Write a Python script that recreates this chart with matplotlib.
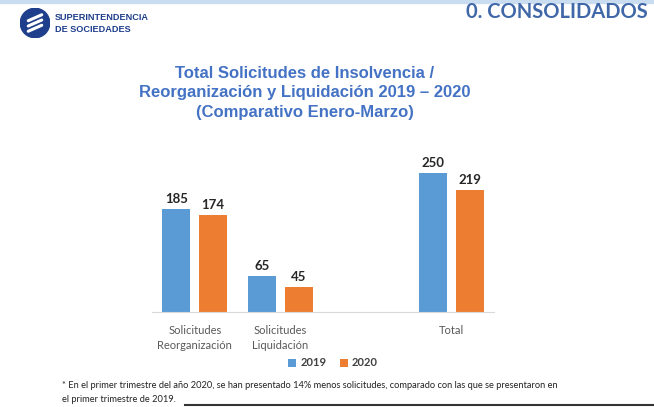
import matplotlib.pyplot as plt
import numpy as np
from matplotlib.patches import Circle, Rectangle
from matplotlib.lines import Line2D

# data
categories = ["Solicitudes\nReorganización", "Solicitudes\nLiquidación", "", "Total"]
series_2019 = [185, 65, None, 250]
series_2020 = [174, 45, None, 219]
years = ["2019", "2020"]

BLUE = "#5B9BD5"
ORANGE = "#ED7D31"
TITLE_BLUE = "#4472C4"
DARK_BLUE = "#1F3F8C"

fig = plt.figure(figsize=(6.54, 4.07), dpi=100)
fig.patch.set_facecolor("white")

ax = fig.add_axes([152 / 654, 95 / 407, 342 / 654, 0.41])
x = np.arange(len(categories))
w = 0.33
for vals, off, col, lab in [(series_2019, -0.215, BLUE, years[0]), (series_2020, 0.215, ORANGE, years[1])]:
    xs = [xi + off for xi, v in zip(x, vals) if v is not None]
    vs = [v for v in vals if v is not None]
    bars = ax.bar(xs, vs, width=w, color=col, label=lab)
    for b, v in zip(bars, vs):
        ax.text(b.get_x() + b.get_width() / 2, v + 7, str(v), ha="center", va="bottom",
                fontsize=9.5, fontweight="bold", color="#262626", family="Lato")

ax.set_xlim(-0.5, 3.5)
ax.set_ylim(0, 300)
ax.set_yticks([])
ax.set_xticks(x)
ax.set_xticklabels(categories, fontsize=8, color="#595959", family="Lato", linespacing=1.45)
ax.tick_params(axis="x", length=0, pad=9)
for s in ["top", "left", "right"]:
    ax.spines[s].set_visible(False)
ax.spines["bottom"].set_color("#D9D9D9")

leg = ax.legend(loc="center", bbox_to_anchor=(333 / 654, 1 - 363 / 407), bbox_transform=fig.transFigure,
                ncol=2, frameon=False, handlelength=0.7, handleheight=0.7, handletextpad=0.4,
                columnspacing=1.2, prop={"family": "Lato", "size": 8, "weight": "bold"})
for t in leg.get_texts():
    t.set_color("#404040")

# title
fig.text(305 / 654, 1 - 93 / 407,
         "Total Solicitudes de Insolvencia /\nReorganización y Liquidación 2019 – 2020\n(Comparativo Enero-Marzo)",
         ha="center", va="center", fontsize=12, fontweight="bold", color=TITLE_BLUE,
         family="Liberation Sans", linespacing=1.35)

# header
fig.add_artist(Rectangle((0, 1 - 3 / 407), 1, 3 / 407, transform=fig.transFigure, color="#C9DCF0"))
fig.text(648 / 654, 1 - 12 / 407, "0. CONSOLIDADOS", ha="right", va="center",
         fontsize=14.5, fontweight="bold", color="#4068A8", family="Lato")
fig.text(55 / 654, 1 - 18 / 407, "SUPERINTENDENCIA", ha="left", va="center",
         fontsize=6.6, fontweight="bold", color=DARK_BLUE, family="Liberation Sans")
fig.text(55 / 654, 1 - 29 / 407, "DE SOCIEDADES", ha="left", va="center",
         fontsize=6.6, fontweight="bold", color=DARK_BLUE, family="Liberation Sans")

# logo
logo = fig.add_axes([20 / 654, 1 - 38 / 407, 30 / 654, 30 / 407])
logo.set_xlim(-1, 1)
logo.set_ylim(-1, 1)
logo.set_aspect("equal")
logo.axis("off")
logo.add_patch(Circle((0, 0), 0.98, color=DARK_BLUE))
for dy in [-0.35, 0.0, 0.35]:
    logo.plot([-0.45, 0.45], [dy - 0.2, dy + 0.2], color="white", lw=2.2, solid_capstyle="round")

# footnote
fig.text(62 / 654, 1 - 386 / 407,
         "* En el primer trimestre del año 2020, se han presentado 14% menos solicitudes, comparado con las que se presentaron en",
         ha="left", va="center", fontsize=6.7, color="#222222", family="Lato")
fig.text(62 / 654, 1 - 399 / 407, "el primer trimestre de 2019.",
         ha="left", va="center", fontsize=6.7, color="#222222", family="Lato")
fig.add_artist(Line2D([185 / 654, 1], [1 - 405 / 407, 1 - 405 / 407], transform=fig.transFigure,
                      color="#333333", lw=1.5))

fig.savefig("out.png", dpi=100)
